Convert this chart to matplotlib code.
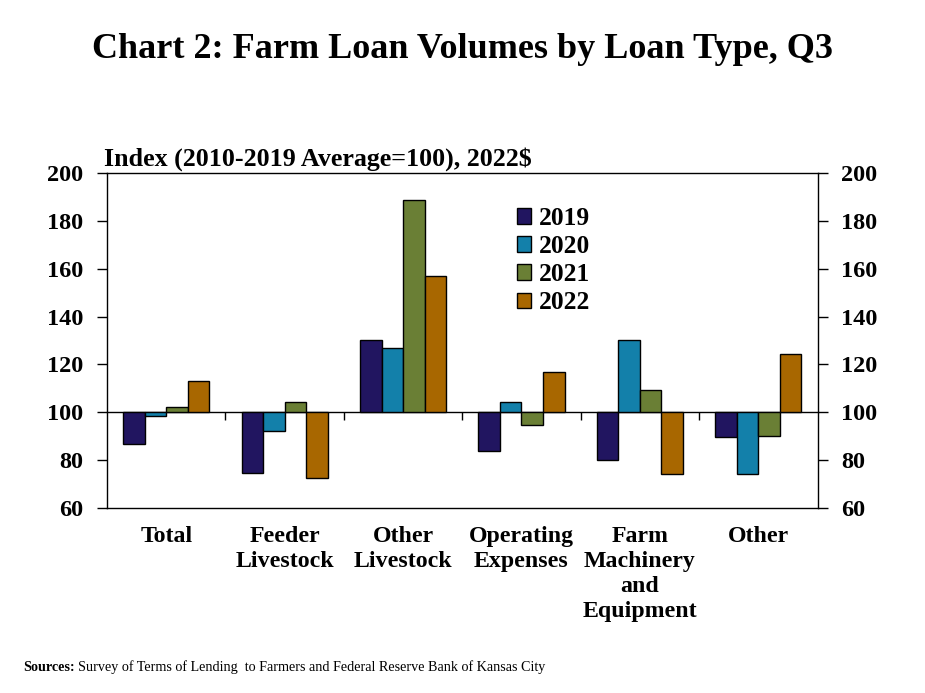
import numpy as np
import matplotlib.pyplot as plt

plt.rcParams['font.family'] = ['Liberation Serif', 'DejaVu Serif']
plt.rcParams['font.weight'] = 'bold'

# Data (index, 2010-2019 average = 100)
categories = ["Total", "Feeder\nLivestock", "Other\nLivestock", "Operating\nExpenses",
              "Farm\nMachinery\nand\nEquipment", "Other"]
years = ["2019", "2020", "2021", "2022"]
v2019 = [86.8, 74.9, 130.1, 84.0, 80.0, 89.6]
v2020 = [98.5, 92.1, 126.9, 104.2, 130.1, 74.4]
v2021 = [102.1, 104.2, 188.8, 94.9, 109.3, 90.1]
v2022 = [113.0, 72.8, 156.7, 116.9, 74.4, 124.2]
series = [v2019, v2020, v2021, v2022]
colors = ["#211560", "#1380AA", "#6A7F35", "#A86700"]
base = 100

fig = plt.figure(figsize=(9.25, 6.93), dpi=100)
ax = fig.add_axes([0.1157, 0.2665, 0.7681, 0.4843])

x = np.arange(len(categories))
w = 0.182
for j, (vals, c) in enumerate(zip(series, colors)):
    vals = np.array(vals)
    ax.bar(x + (j - 1.5) * w, vals - base, bottom=base, width=w, color=c,
           edgecolor="black", linewidth=1.0, label=years[j], zorder=2)

ax.set_xlim(-0.5, len(categories) - 0.5)
ax.set_ylim(60, 200)
ax.set_yticks(range(60, 201, 20))
ax.tick_params(axis="y", which="both", direction="out", length=7, width=1,
               labelsize=17.5, pad=10, left=True, right=True, labelleft=True, labelright=True)
ax.set_xticks(x)
ax.set_xticklabels(categories, fontsize=17.2, linespacing=1.25)
ax.tick_params(axis="x", length=0, pad=13)
for s in ax.spines.values():
    s.set_linewidth(1.0)

# category axis crossing at 100 with boundary tick marks
sec = ax.secondary_xaxis((base - 60) / 140)
sec.set_xticks(np.arange(0.5, len(categories) - 1, 1.0))
sec.set_xticklabels([])
sec.tick_params(axis="x", direction="out", length=6, width=1)
sec.spines["bottom"].set_linewidth(1.0)

leg = ax.legend(loc="upper left", bbox_to_anchor=(517 / 925, 1 - 207 / 693),
                bbox_transform=fig.transFigure, frameon=False, fontsize=18.4,
                handlelength=0.55, handleheight=0.55, handletextpad=0.3,
                labelspacing=0.2, borderpad=0, borderaxespad=0)

fig.text(0.5, 1 - 50 / 693, "Chart 2: Farm Loan Volumes by Loan Type, Q3",
         ha="center", va="center", fontsize=26, fontweight="bold")
fig.text(104 / 925, 1 - 166 / 693, "Index (2010-2019 Average=100), 2022$",
         ha="left", va="baseline", fontsize=18.7, fontweight="bold")
fig.text(23 / 925, 1 - 671 / 693, r"Sources:", ha="left", va="baseline",
         fontsize=10.2, fontweight="bold")
fig.text(78 / 925, 1 - 671 / 693,
         "Survey of Terms of Lending  to Farmers and Federal Reserve Bank of Kansas City",
         ha="left", va="baseline", fontsize=10.2, fontweight="normal")

fig.savefig("out.png", dpi=100)
